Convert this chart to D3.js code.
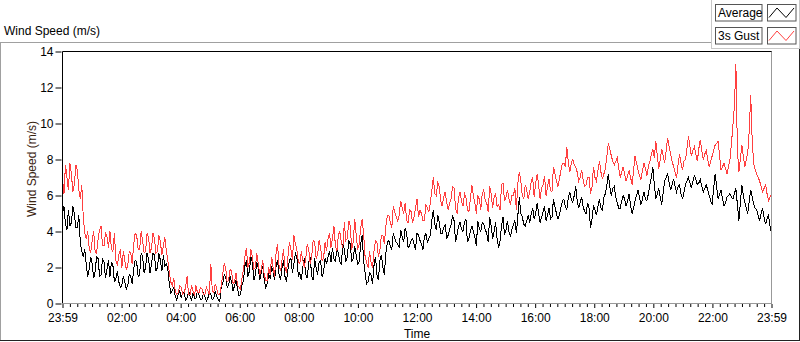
<!DOCTYPE html>
<html><head><meta charset="utf-8">
<script src="https://cdn.jsdelivr.net/npm/d3@7"></script>
<style>
html,body{margin:0;padding:0;background:#fff;}
svg{display:block;font-family:"Liberation Sans",Arial,sans-serif;}
</style></head>
<body><svg id="c" width="800" height="342"></svg>
<script>
// ---- data: samples every ~3 minutes from 23:59 to 23:59 ----
// "A" arrays: samples at even slots, "B" arrays: samples in between them.
const seriesNames = ["Average", "3s Gust"];
const xTickLabels = ["23:59","02:00","04:00","06:00","08:00","10:00","12:00","14:00","16:00","18:00","20:00","22:00","23:59"];
const yTickValues = [0,2,4,6,8,10,12,14];
const averageA = [
5.0,4.4,5.2,4.5,5.0,4.2,3.4,2.6,2.2,1.9,
2.2,1.8,2.5,1.6,2.3,1.9,1.5,2.1,1.4,1.2,
1.0,1.2,1.0,1.5,1.9,2.3,1.6,2.6,2.0,2.5,
2.2,2.7,2.0,2.4,2.7,2.2,1.1,0.7,0.4,0.5,
0.3,0.6,0.3,0.4,0.6,0.3,0.5,0.2,0.4,0.3,
0.5,0.3,0.4,0.1,1.1,1.5,1.0,1.2,1.0,0.8,
0.5,1.3,2.4,1.8,2.3,1.6,2.0,1.7,1.3,1.1,
1.4,1.8,2.1,1.6,2.0,1.5,1.9,2.5,2.2,2.6,
1.7,2.0,1.6,2.3,1.5,2.5,1.6,2.4,1.7,2.2,
2.9,3.1,2.3,2.8,2.2,3.0,2.6,3.3,2.5,2.7,
2.3,3.8,1.7,1.2,1.6,2.1,1.6,2.4,2.0,2.8,
3.5,3.0,3.6,3.3,4.1,3.4,3.9,3.2,3.6,3.0,
3.8,3.3,3.7,3.4,3.8,5.2,4.1,4.5,3.9,4.4,
3.8,4.4,4.6,3.8,4.5,4.0,4.7,3.6,4.3,3.7,
4.6,4.0,4.4,3.9,4.8,3.6,4.5,3.1,4.3,3.8,
4.6,3.7,4.4,3.9,5.9,4.8,4.3,4.9,5.0,4.7,
5.6,4.5,5.1,4.6,5.3,4.8,5.4,4.7,5.3,5.8,
5.2,6.2,5.6,6.5,5.3,5.9,5.1,5.6,4.2,5.4,
4.9,5.8,5.2,6.1,7.2,6.0,6.5,5.6,5.3,6.0,
5.4,6.1,5.0,5.7,6.3,5.5,6.2,5.7,6.6,7.6,
5.8,6.4,5.5,6.8,7.2,6.3,6.9,6.2,6.6,5.8,
6.6,7.0,6.4,7.1,6.6,6.9,6.2,6.6,6.0,5.5,
7.2,5.8,6.3,5.4,5.9,6.1,5.8,6.4,4.6,6.6,
5.6,5.0,6.3,5.5,5.2,4.6,5.3,4.4,4.9,3.9];
const averageB = [
5.4,4.1,4.3,5.4,4.2,4.9,2.9,3.0,1.5,2.6,
1.4,2.6,1.5,2.5,1.4,2.4,2.3,1.2,1.8,0.9,
1.5,0.8,1.6,1.1,2.4,1.5,2.8,1.7,2.8,1.7,
2.8,1.8,2.8,1.8,2.1,1.9,0.6,0.9,0.2,0.7,
0.6,0.2,0.7,0.2,0.3,0.7,0.2,0.6,0.15,0.6,
0.2,0.7,0.2,0.9,1.6,0.9,1.5,0.7,1.3,0.4,
1.0,2.1,1.5,2.6,1.3,2.3,1.3,2.1,0.9,1.6,
2.0,1.3,2.4,1.3,2.4,1.2,2.4,1.7,2.8,1.5,
1.3,2.5,1.4,2.6,1.3,2.0,2.3,1.5,2.5,2.6,
2.3,2.5,3.1,2.3,3.3,2.3,3.5,2.3,3.2,2.2,
3.3,2.4,1.1,1.7,1.1,2.6,1.3,2.7,1.6,3.4,
3.2,3.9,3.4,3.1,3.7,4.2,3.1,3.5,3.3,3.9,
3.5,3.0,3.9,3.6,4.6,4.4,4.9,3.9,4.2,3.6,
4.1,4.9,3.4,4.3,4.1,4.5,3.4,4.0,4.0,3.2,
4.2,4.5,4.1,3.4,4.3,4.0,3.6,3.5,4.8,4.1,
4.0,4.1,4.6,4.9,5.0,4.4,4.6,4.5,5.3,5.0,
5.0,4.8,5.4,4.9,4.7,5.8,5.0,4.9,5.7,5.4,
5.9,5.8,6.0,5.7,5.6,5.4,5.0,5.3,4.7,5.2,
5.4,5.3,5.9,6.6,6.5,6.4,5.9,5.3,5.7,5.8,
5.7,5.4,5.3,6.0,5.9,5.8,5.8,6.1,7.0,6.6,
6.1,5.9,6.2,7.0,6.7,6.6,6.5,6.5,6.1,6.2,
6.8,6.7,6.8,6.9,6.7,6.5,6.4,6.3,5.7,6.4,
6.5,6.1,5.8,5.6,6.0,5.9,6.1,5.5,5.6,6.0,
5.3,5.7,5.9,5.3,4.9,5.0,4.8,4.7,4.3];
const gustA = [
6.9,7.7,6.3,7.2,6.6,7.4,5.8,4.8,3.6,3.1,
3.5,2.9,3.6,4.3,3.2,3.7,4.0,2.9,2.4,2.7,
2.0,2.4,2.1,2.8,3.3,3.8,3.0,3.5,2.9,3.7,
3.1,3.6,2.9,3.4,3.2,2.9,1.7,1.0,0.7,0.6,
0.9,0.6,1.5,0.5,0.7,1.0,0.6,0.8,0.5,0.7,
2.2,0.6,0.8,0.5,1.6,2.0,1.3,1.8,1.2,1.0,
0.8,1.9,3.1,2.3,2.6,2.0,2.2,1.9,1.6,1.3,
1.6,2.0,2.8,2.1,2.4,2.0,2.6,3.0,3.8,3.0,
2.2,2.4,2.5,3.0,2.6,3.4,2.7,3.1,2.5,2.9,
3.9,3.6,3.2,3.8,3.4,4.5,3.6,4.3,3.4,3.8,
3.3,4.7,2.6,2.0,2.3,2.9,3.4,3.0,3.8,4.3,
4.9,4.2,5.1,4.6,5.7,5.0,4.6,5.2,4.5,5.3,
4.8,5.0,4.6,5.3,5.6,7.0,6.0,6.5,5.4,6.2,
5.2,5.8,6.4,5.0,6.2,5.4,5.9,5.1,6.6,5.6,
6.0,5.2,6.3,5.6,6.5,5.3,6.1,5.5,6.6,5.7,
6.3,5.5,6.0,5.2,7.3,6.0,6.6,5.8,6.8,5.9,
7.2,5.8,6.6,6.0,6.9,6.2,7.2,6.5,7.4,7.8,
8.7,7.3,8.0,7.6,6.8,7.4,6.5,7.0,6.1,7.6,
6.8,7.9,6.9,7.5,8.9,8.2,7.7,8.1,7.0,7.6,
6.8,7.4,6.6,8.2,7.4,6.9,7.8,7.1,7.9,8.6,
9.0,7.5,8.6,7.8,9.2,8.3,7.6,7.0,8.3,7.4,
8.0,9.3,8.2,8.7,7.9,9.1,8.0,8.5,7.6,8.2,
8.8,9.0,7.4,7.8,7.2,8.0,9.9,13.3,7.3,8.8,
7.6,8.4,11.6,7.8,7.2,6.8,6.2,6.6,5.7,6.1];
const gustB = [
6.1,7.0,7.8,6.2,7.7,6.3,6.6,3.9,4.0,2.8,
4.0,2.8,4.1,3.2,3.9,3.1,3.0,3.9,2.1,3.0,
2.9,1.9,2.9,2.2,3.9,3.0,4.0,2.8,3.9,2.8,
3.9,2.8,3.8,2.7,3.7,2.4,1.2,1.4,0.5,1.0,
0.5,0.9,0.5,1.0,0.45,0.6,0.9,0.5,0.9,0.5,
0.7,1.1,0.5,1.0,2.2,1.2,1.9,1.1,1.7,0.9,
1.4,2.6,2.0,3.0,1.9,2.8,1.6,2.4,1.3,2.0,
2.6,1.5,3.3,1.8,3.0,1.7,3.4,2.4,3.3,2.3,
2.9,2.0,3.3,2.2,3.5,2.5,3.5,2.4,3.4,3.6,
3.1,4.3,2.9,4.0,3.1,3.5,4.6,3.0,4.7,3.0,
4.2,3.9,2.3,2.9,2.0,3.5,2.6,3.8,3.3,4.9,
4.5,5.4,4.8,4.9,5.3,5.6,4.5,5.1,4.8,5.8,
5.2,4.6,5.5,5.1,6.3,6.1,6.7,5.7,5.9,5.6,
5.6,6.5,5.3,5.9,5.7,6.1,5.2,5.8,6.0,5.0,
5.8,6.1,5.7,5.1,6.1,5.9,5.4,5.2,6.7,5.9,
5.8,6.0,6.4,6.7,6.8,5.8,6.3,6.2,7.0,6.7,
6.6,6.4,7.1,6.5,6.3,7.6,6.8,6.9,7.8,7.6,
7.9,7.8,7.7,7.3,7.0,6.9,6.6,7.0,6.5,7.0,
7.4,7.3,7.2,8.2,8.6,7.9,7.9,7.5,7.3,7.2,
7.1,7.0,7.4,7.8,7.1,7.4,7.5,7.6,8.3,8.1,
8.2,8.0,8.2,8.5,8.7,7.9,7.3,7.7,7.8,7.9,
8.6,8.7,8.5,8.3,8.6,8.5,8.3,8.0,7.9,8.5,
8.9,8.2,7.6,7.5,7.6,8.9,11.0,8.6,8.0,8.2,
8.0,9.6,9.0,7.4,7.0,6.5,6.4,6.1,5.9];
const totalMinutes = 1439;

// merge A/B samples in time order
function merge(a, b){ const out=[]; a.forEach((v,i)=>{ out.push(v); if(i<b.length) out.push(b[i]); }); return out; }
const average = merge(averageA, averageB);
const gust = merge(gustA, gustB);

// ---- drawing ----
const svg = d3.select("#c");
const FS = 12;
const L = 62.5, R = 771.5, T = 51.5, B = 303.5;
const x = d3.scaleLinear().domain([0, totalMinutes]).range([L, R]);
const y = d3.scaleLinear().domain([0, 14]).range([B, T]);

// outer frame
svg.append("line").attr("x1",0).attr("x2",711).attr("y1",42.5).attr("y2",42.5).attr("stroke","#a0a0a0");
svg.append("line").attr("x1",0.5).attr("x2",0.5).attr("y1",42).attr("y2",341).attr("stroke","#a0a0a0");
svg.append("line").attr("x1",0).attr("x2",800).attr("y1",340.5).attr("y2",340.5).attr("stroke","#222");
svg.append("line").attr("x1",799.5).attr("x2",799.5).attr("y1",48).attr("y2",341).attr("stroke","#222");

// top-left label
svg.append("text").attr("x",4).attr("y",35).attr("font-size",FS).attr("fill","#000").text("Wind Speed (m/s)");

// legend panel
svg.append("rect").attr("x",711.5).attr("y",-1).attr("width",88).attr("height",49.5)
  .attr("fill","#fff").attr("stroke","#c8c8c8");
const legColors = ["#000000","#ff4040"];
seriesNames.forEach((n,k)=>{
  const y0 = 4.5 + k*23;
  svg.append("rect").attr("x",715.5).attr("y",y0).attr("width",46.5).attr("height",16.5)
    .attr("fill","#fff").attr("stroke","#555");
  svg.append("text").attr("x",718).attr("y",y0+12.5).attr("font-size",FS).attr("fill","#000").text(n);
  svg.append("rect").attr("x",767.5).attr("y",y0).attr("width",28.5).attr("height",16.5)
    .attr("fill","#fff").attr("stroke","#555");
  svg.append("polyline")
    .attr("points",[[769,y0+13],[777,y0+3.5],[786,y0+13],[794,y0+3.5]].map(p=>p.join(",")).join(" "))
    .attr("fill","none").attr("stroke",legColors[k]).attr("stroke-width",1);
});

// data lines
const xs = i => x(i*totalMinutes/(average.length-1));
const line = d3.line().x((d,i)=>xs(i)).y(d=>y(d));
const g = svg.append("g");
g.append("path").datum(average).attr("d",line).attr("fill","none").attr("stroke","#000").attr("stroke-width",1).attr("shape-rendering","crispEdges");
g.append("path").datum(gust).attr("d",line).attr("fill","none").attr("stroke","#ff4040").attr("stroke-width",1).attr("shape-rendering","crispEdges");

// plot border (sunken look)
svg.append("line").attr("x1",L).attr("x2",R+0.5).attr("y1",T).attr("y2",T).attr("stroke","#000");
svg.append("line").attr("x1",L).attr("x2",L).attr("y1",T).attr("y2",B).attr("stroke","#000");
svg.append("line").attr("x1",R).attr("x2",R).attr("y1",T).attr("y2",B).attr("stroke","#999");
svg.append("line").attr("x1",L).attr("x2",R+0.5).attr("y1",B).attr("y2",B).attr("stroke","#999");

// y axis
const ya = svg.append("g").attr("transform",`translate(${L-1},0)`)
  .call(d3.axisLeft(y).tickValues(yTickValues).tickSize(6).tickPadding(2).tickFormat(d3.format("d")));
ya.select(".domain").remove();
ya.selectAll("text").attr("font-size",FS).attr("font-family","Liberation Sans, Arial, sans-serif").attr("fill","#000");
ya.selectAll("line").attr("stroke","#000");

// x axis minor + major ticks
const majors = xTickLabels.map((d,i)=> i*totalMinutes/(xTickLabels.length-1));
const minors = [];
for (let k=0;k<majors.length-1;k++){ for(let j=1;j<8;j++){ minors.push(majors[k] + j*(majors[k+1]-majors[k])/8); } }
const xm = svg.append("g").attr("transform",`translate(0,${B+0.5})`)
  .call(d3.axisBottom(x).tickValues(minors).tickSize(3).tickFormat(""));
xm.select(".domain").remove();
xm.selectAll("line").attr("stroke","#000");
const xa = svg.append("g").attr("transform",`translate(0,${B+0.5})`)
  .call(d3.axisBottom(x).tickValues(majors).tickSize(4).tickPadding(5).tickFormat((d,i)=>xTickLabels[i]));
xa.select(".domain").remove();
xa.selectAll("line").attr("stroke","#000");
xa.selectAll("text").attr("font-size",FS).attr("font-family","Liberation Sans, Arial, sans-serif").attr("fill","#000");

// axis titles
svg.append("text").attr("x",(L+R)/2).attr("y",338).attr("text-anchor","middle").attr("font-size",FS).attr("fill","#000").text("Time");
svg.append("text").attr("transform",`translate(36,169) rotate(-90)`).attr("text-anchor","middle")
  .attr("font-size",FS).attr("fill","#3a2410").text("Wind Speed (m/s)");
</script></body></html>
